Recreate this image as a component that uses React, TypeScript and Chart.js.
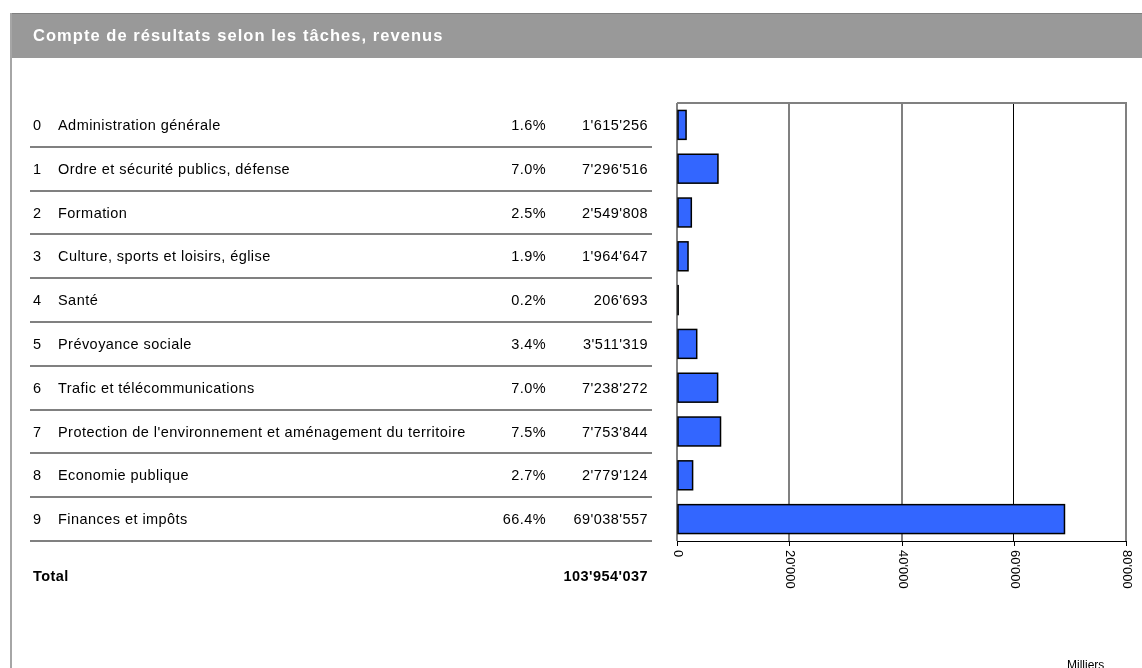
import React, { useEffect, useRef } from "react";
import { Chart, registerables } from "chart.js";

Chart.register(...registerables);

const TITLE = "Compte de résultats selon les tâches, revenus";
const codes = ["0", "1", "2", "3", "4", "5", "6", "7", "8", "9"];
const categories = [
  "Administration générale",
  "Ordre et sécurité publics, défense",
  "Formation",
  "Culture, sports et loisirs, église",
  "Santé",
  "Prévoyance sociale",
  "Trafic et télécommunications",
  "Protection de l'environnement et aménagement du territoire",
  "Economie publique",
  "Finances et impôts",
];
const percents = ["1.6%", "7.0%", "2.5%", "1.9%", "0.2%", "3.4%", "7.0%", "7.5%", "2.7%", "66.4%"];
const amounts = [1615256, 7296516, 2549808, 1964647, 206693, 3511319, 7238272, 7753844, 2779124, 69038557];
const totalLabel = "Total";
const totalAmount = 103954037;
const xTickValues = [0, 20000, 40000, 60000, 80000];
const unitLabel = "Milliers";

const fmt = (n: number) => String(n).replace(/\B(?=(\d{3})+(?!\d))/g, "'");

const FONT = "'Liberation Sans', Arial, sans-serif";

const decorPlugin = {
  id: "decor",
  beforeDraw(chart: any) {
    const ctx = chart.ctx as CanvasRenderingContext2D;
    const W = chart.width;
    const H = chart.height;
    ctx.save();
    ctx.fillStyle = "#ffffff";
    ctx.fillRect(0, 0, W, H);
    // header band
    ctx.fillStyle = "#999999";
    ctx.fillRect(11, 13, W - 11, 45);
    ctx.fillStyle = "#808080";
    ctx.fillRect(11, 13, W - 11, 1);
    // left frame border
    ctx.fillStyle = "#a6a6a6";
    ctx.fillRect(10, 13, 2, H - 13);
    // title
    ctx.fillStyle = "#ffffff";
    ctx.font = `bold 16.5px ${FONT}`;
    (ctx as any).letterSpacing = "1.05px";
    ctx.textAlign = "left";
    ctx.textBaseline = "alphabetic";
    ctx.fillText(TITLE, 33, 41);
    ctx.restore();
  },
  afterDatasetsDraw(chart: any) {
    const ctx = chart.ctx as CanvasRenderingContext2D;
    const meta = chart.getDatasetMeta(0);
    ctx.save();
    ctx.strokeStyle = "#000000";
    ctx.lineWidth = 1.5;
    meta.data.forEach((el: any) => {
      const p = el.getProps(["x", "y", "base", "height"], true);
      ctx.strokeRect(p.base, p.y - p.height / 2, p.x - p.base, p.height);
    });
    ctx.restore();
  },
  afterDraw(chart: any) {
    const ctx = chart.ctx as CanvasRenderingContext2D;
    const xs = chart.scales.x;
    const ys = chart.scales.y;
    const area = chart.chartArea;
    const rowH = (area.bottom - area.top) / categories.length;
    ctx.save();

    // table rows
    ctx.fillStyle = "#000000";
    ctx.font = `14.5px ${FONT}`;
    (ctx as any).letterSpacing = "0.45px";
    ctx.textBaseline = "middle";
    categories.forEach((c, i) => {
      const y = ys.getPixelForValue(i) + 1;
      ctx.textAlign = "left";
      ctx.fillText(codes[i], 33, y);
      ctx.fillText(c, 58, y);
      ctx.textAlign = "right";
      ctx.fillText(percents[i], 546, y);
      ctx.fillText(fmt(amounts[i]), 648, y);
    });
    // separators
    ctx.fillStyle = "#808080";
    categories.forEach((_, i) => {
      const y = ys.getPixelForValue(i) + rowH / 2;
      ctx.fillRect(30, Math.round(y) - 1, 622, 2);
    });
    // total
    ctx.fillStyle = "#000000";
    ctx.font = `bold 14.5px ${FONT}`;
    ctx.textAlign = "left";
    ctx.fillText(totalLabel, 33, area.bottom + 36);
    ctx.textAlign = "right";
    ctx.fillText(fmt(totalAmount), 648, area.bottom + 36);

    // plot frame top
    ctx.fillStyle = "#808080";
    ctx.fillRect(area.left, area.top - 1, area.right - area.left + 1, 2);
    // bottom axis
    ctx.fillStyle = "#000000";
    ctx.fillRect(area.left, Math.round(area.bottom), area.right - area.left + 1, 1);
    // ticks + labels
    ctx.font = `13px ${FONT}`;
    (ctx as any).letterSpacing = "0px";
    xTickValues.forEach((v) => {
      const x = Math.round(xs.getPixelForValue(v));
      ctx.fillStyle = "#000000";
      ctx.fillRect(x, Math.round(area.bottom), 1, 5);
      ctx.save();
      ctx.translate(x + 0.5, area.bottom + 9);
      ctx.rotate(Math.PI / 2);
      ctx.textAlign = "left";
      ctx.textBaseline = "middle";
      ctx.fillText(fmt(v), 0, 0);
      ctx.restore();
    });
    // unit label
    ctx.font = `12px ${FONT}`;
    ctx.textAlign = "left";
    ctx.textBaseline = "alphabetic";
    ctx.fillText(unitLabel, 1067, 669);
    ctx.restore();
  },
};

export default function App() {
  const ref = useRef<HTMLCanvasElement | null>(null);
  useEffect(() => {
    if (!ref.current) return;
    const chart = new Chart(ref.current, {
      type: "bar",
      data: {
        labels: categories,
        datasets: [
          {
            data: amounts.map((a) => a / 1000),
            backgroundColor: "#3366ff",
            borderWidth: 0,
            barPercentage: 0.66,
            categoryPercentage: 1,
          },
        ],
      },
      options: {
        indexAxis: "y",
        responsive: false,
        animation: false,
        layout: { padding: { left: 677, right: 16, top: 103, bottom: 127 } },
        plugins: { legend: { display: false }, tooltip: { enabled: false } },
        scales: {
          x: {
            min: 0,
            max: 80000,
            ticks: { display: false, stepSize: 20000 },
            grid: {
              drawTicks: false,
              color: (c: any) => (c.tick && c.tick.value === 60000 ? "#000000" : "#808080"),
              lineWidth: (c: any) => (c.tick && c.tick.value === 60000 ? 1 : 2),
            },
            border: { display: false },
          },
          y: { display: false },
        },
      },
      plugins: [decorPlugin],
    } as any);
    return () => chart.destroy();
  }, []);
  return (
    <div style={{ position: "fixed", left: 0, top: 0, width: 1142, height: 668, background: "#fff" }}>
      <canvas ref={ref} width={1142} height={668} style={{ display: "block", width: 1142, height: 668 }} />
    </div>
  );
}
